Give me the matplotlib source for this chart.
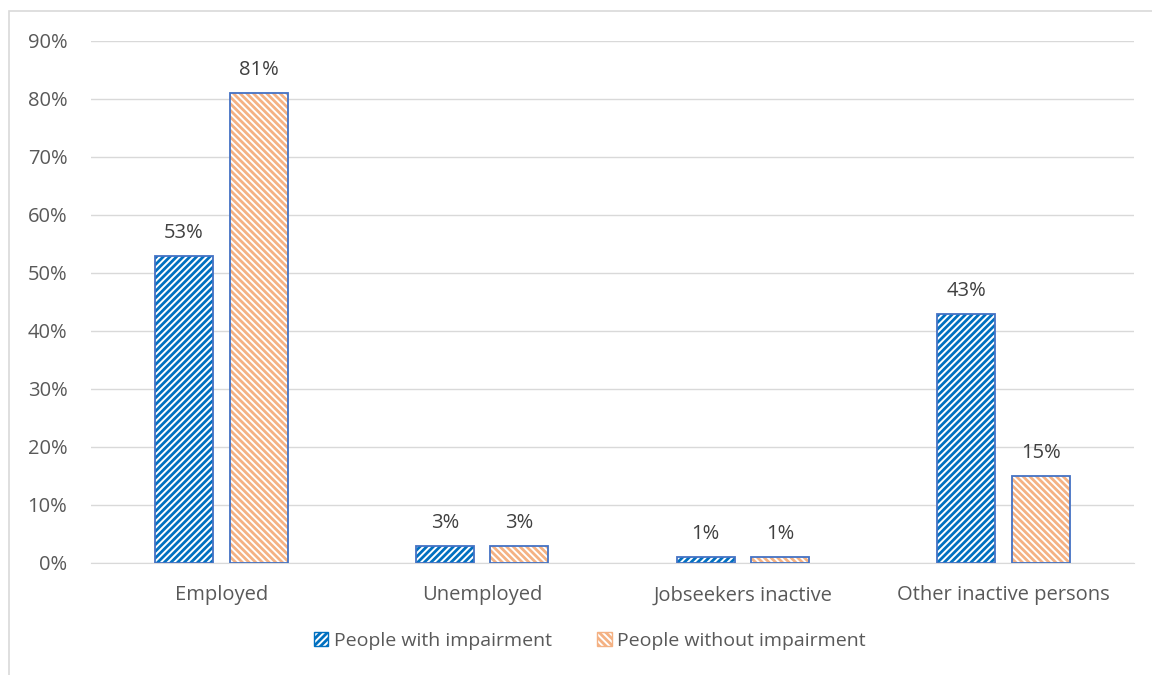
import matplotlib.pyplot as plt
import matplotlib.patches as mpatches
from matplotlib.ticker import FuncFormatter
import numpy as np

categories = ['Employed', 'Unemployed', 'Jobseekers inactive', 'Other inactive persons']
with_impairment = [53, 3, 1, 43]
without_impairment = [81, 3, 1, 15]
series_names = ['People with impairment', 'People without impairment']

blue = '#0070C0'
orange = '#F4B183'
edge = '#4472C4'
text_col = '#595959'
hatch_up = '/' * 5
hatch_down = '\\' * 5

plt.rcParams['font.family'] = ['Open Sans', 'DejaVu Sans']
plt.rcParams['hatch.linewidth'] = 2.0

fig = plt.figure(figsize=(11.52, 6.75), dpi=100)
ax = fig.add_axes([91 / 1152, 1 - 563 / 675, (1134 - 91) / 1152, (563 - 41) / 675])

# outer chart frame
fig.patches.append(mpatches.Rectangle((9 / 1152, -0.01), 1.02, 1 - 11 / 675 + 0.01,
                                      transform=fig.transFigure, fill=False,
                                      edgecolor='#D9D9D9', linewidth=1.2))

x = np.arange(len(categories))
w = 0.222
off = 0.143

for vals, dx, col, hatch in [(with_impairment, -off, blue, hatch_up),
                             (without_impairment, off, orange, hatch_down)]:
    ax.bar(x + dx, vals, w, color='white', edgecolor=col, hatch=hatch, linewidth=0, zorder=2)
    ax.bar(x + dx, vals, w, fill=False, edgecolor=edge, linewidth=1.3, zorder=3)
    for xi, v in zip(x + dx, vals):
        ax.text(xi, v + 2.2, f'{v}%', ha='center', va='bottom', fontsize=14.5, color='#404040')

ax.set_ylim(0, 90)
ax.set_xlim(-0.5, 3.5)
ax.set_yticks(range(0, 91, 10))
ax.yaxis.set_major_formatter(FuncFormatter(lambda v, p: f'{int(v)}%'))
ax.set_xticks(x)
ax.set_xticklabels(categories)
ax.tick_params(axis='both', length=0, labelsize=14.5, colors=text_col)
ax.tick_params(axis='x', pad=16)
ax.tick_params(axis='y', pad=17)
ax.grid(axis='y', color='#D9D9D9', linewidth=1)
ax.set_axisbelow(True)
for s in ['top', 'right', 'left']:
    ax.spines[s].set_visible(False)
ax.spines['bottom'].set_color('#D9D9D9')

handles = [mpatches.Patch(facecolor='white', edgecolor=blue, hatch=hatch_up, label=series_names[0]),
           mpatches.Patch(facecolor='white', edgecolor=orange, hatch=hatch_down, label=series_names[1])]
leg = fig.legend(handles=handles, loc='center', bbox_to_anchor=(590 / 1152, 1 - 641 / 675), ncol=2,
                 frameon=False, fontsize=14, handlelength=0.75, handleheight=0.75,
                 handletextpad=0.3, columnspacing=2.3)
for t in leg.get_texts():
    t.set_color(text_col)

fig.savefig('out.png', dpi=100)
